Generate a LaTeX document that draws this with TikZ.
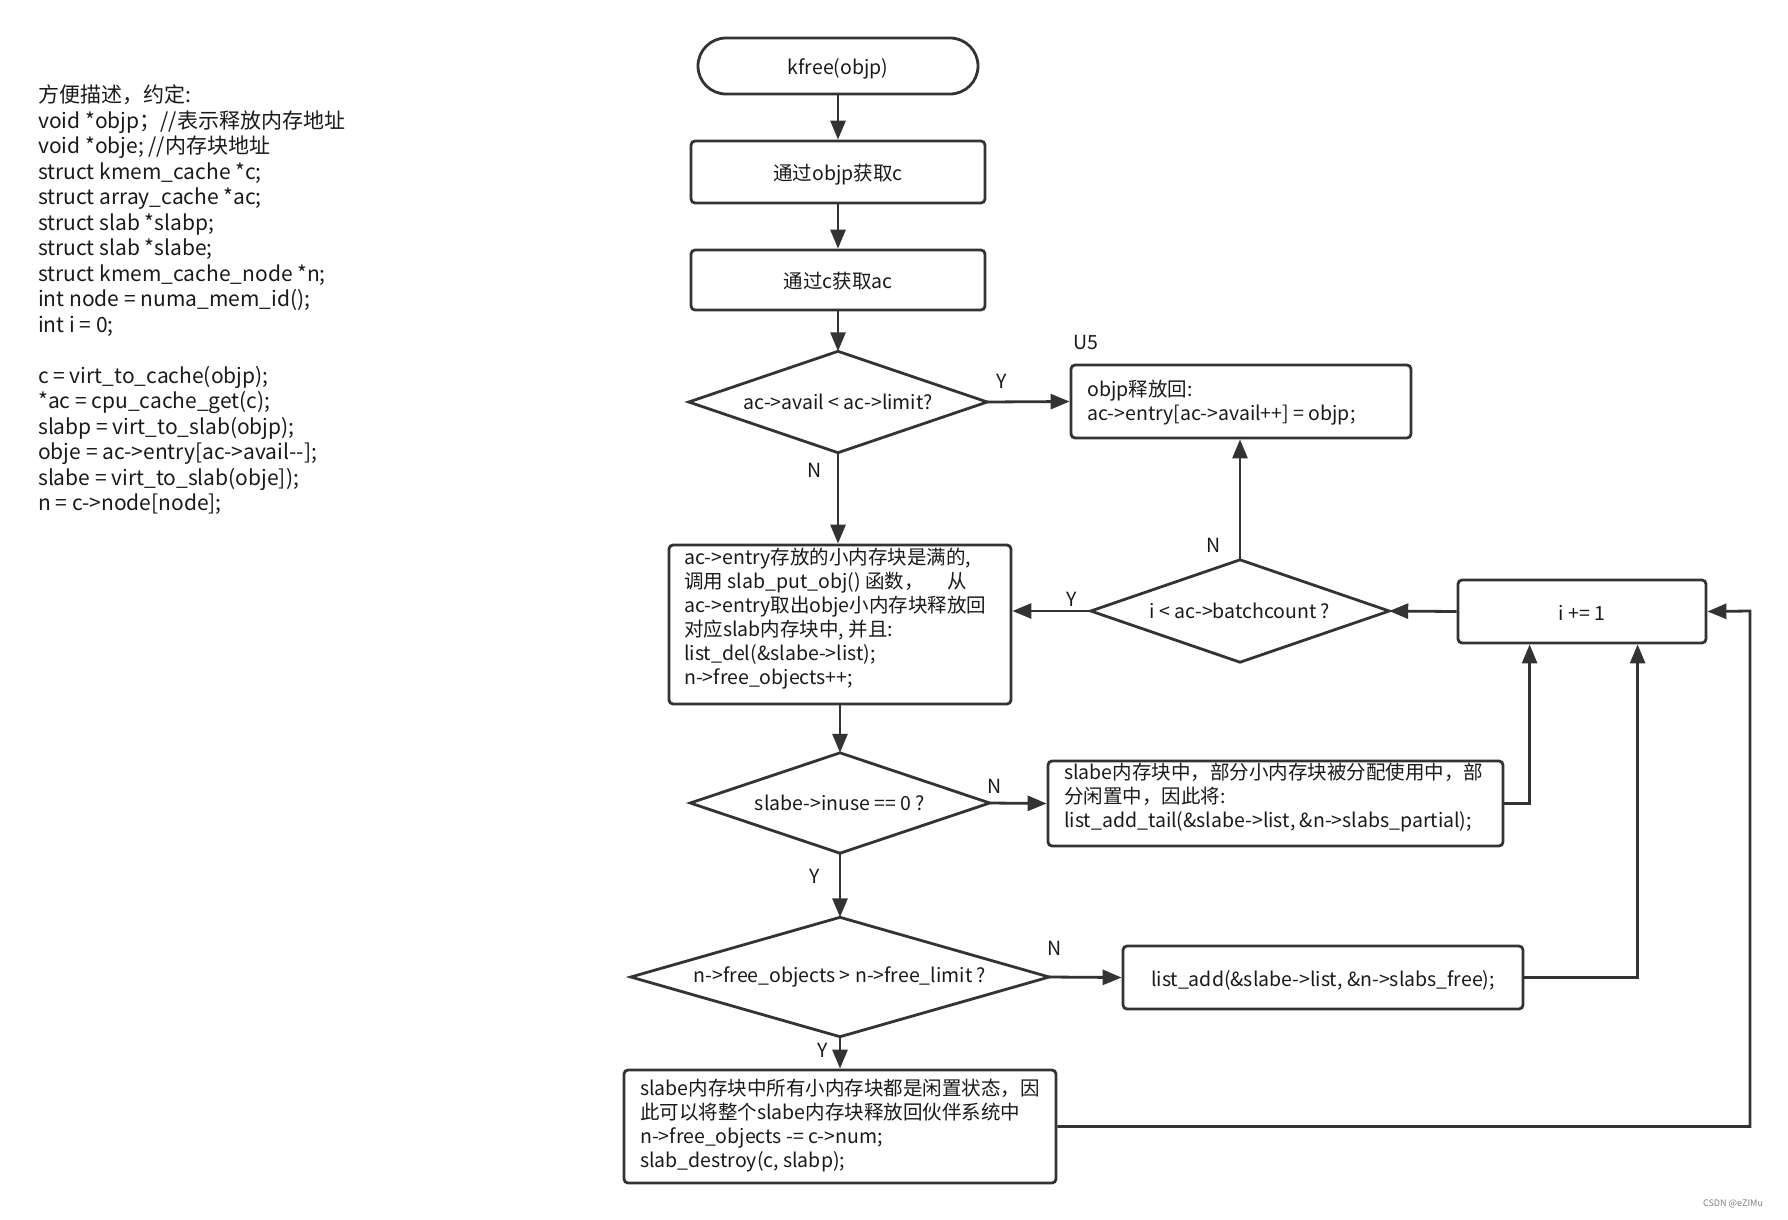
\documentclass[tikz,border=0pt]{standalone}
\usepackage{fontspec}
\setmainfont{Noto Sans CJK SC}
\usetikzlibrary{arrows.meta,calc}
\definecolor{ln}{HTML}{333333}
\definecolor{tx}{HTML}{1A1A1A}
\newcommand\myfs{\fontsize{19.5}{24}\selectfont}
\newcommand\myfsl{\fontsize{21}{25.5}\selectfont}
\begin{document}
\begin{tikzpicture}[x=1pt,y=-1pt,
  box/.style={draw=ln, line width=2.8pt, rounded corners=4pt, inner sep=0pt, font=\myfs, text=tx, text height=19pt, text depth=1.5pt},
  dia/.style={rectangle, inner sep=0pt, font=\myfs, text=tx},
  diaedge/.style={draw=ln, line width=2.8pt},
  txt/.style={inner sep=0pt, anchor=base west, align=left, font=\myfs, text=tx},
  lab/.style={inner sep=0pt, font=\myfs, text=tx},
  arr/.style={draw=ln, line width=2.8pt, -{Triangle[length=19pt,width=15pt]}}]
\fill[white] (0,0) rectangle (1788,1219);
\useasboundingbox (0,0) rectangle (1788,1219);

% left description (anchor = baseline of last line)
\node[txt, font=\myfsl] (desc) at (38,510.5) {方便描述，约定:\\
void *objp；//表示释放内存地址\\
void *obje; //内存块地址\\
struct kmem\_cache *c;\\
struct array\_cache *ac;\\
struct slab *slabp;\\
struct slab *slabe;\\
struct kmem\_cache\_node *n;\\
int node = numa\_mem\_id();\\
int i = 0;\\[25.5pt]
c = virt\_to\_cache(objp);\\
*ac = cpu\_cache\_get(c);\\
slabp = virt\_to\_slab(objp);\\
obje = ac->entry[ac->avail-{}-];\\
slabe = virt\_to\_slab(obje]);\\
n = c->node[node];};

% flow nodes
\node[box, rounded corners=28pt, minimum width=280pt, minimum height=56pt] (kf) at (838,66) {kfree(objp)};
\node[box, minimum width=294pt, minimum height=62pt] (c1) at (838,172) {通过objp获取c};
\node[box, minimum width=294pt, minimum height=60pt] (c2) at (838,280) {通过c获取ac};
\node[dia, minimum width=298pt, minimum height=101pt] (d1) at (838,402) {ac->avail < ac->limit?};
\node[box, minimum width=340pt, minimum height=73pt] (objp) at (1241,401.5) {};
\node[txt] (tobjp) at (1087,420.5) {objp释放回:\\ac->entry[ac->avail++] = objp;};
\node[lab] (u5) at (1086,342) {U5};

\node[box, minimum width=342pt, minimum height=159pt] (big) at (840,624.5) {};
\node[txt] (tbig) at (684,684) {ac->entry存放的小内存块是满的,\\
调用 slab\_put\_obj() 函数，\hspace{24pt}从\\
ac->entry取出obje小内存块释放回\\
对应slab内存块中, 并且:\\
list\_del(\&slabe->list);\\
n->free\_objects++;};

\node[dia, minimum width=298pt, minimum height=102pt] (d2) at (1240,611) {i < ac->batchcount ?};
\node[box, minimum width=248pt, minimum height=63pt] (ipp) at (1582,611.5) {i += 1};

\node[dia, minimum width=299pt, minimum height=100pt] (d3) at (840,803) {slabe->inuse == 0 ?};
\node[box, minimum width=455pt, minimum height=85pt] (partial) at (1275.5,803.5) {};
\node[txt] (tpartial) at (1064,827.5) {slabe内存块中，部分小内存块被分配使用中，部\\
分闲置中，因此将:\\
list\_add\_tail(\&slabe->list, \&n->slabs\_partial);};

\node[dia, minimum width=418pt, minimum height=119pt] (d4) at (840,977) {n->free\_objects > n->free\_limit ?};
\node[box, minimum width=400pt, minimum height=63pt] (listadd) at (1323,977.5) {list\_add(\&slabe->list, \&n->slabs\_free);};

\node[box, minimum width=432pt, minimum height=113pt] (final) at (840,1126.5) {};
\node[txt] (tfinal) at (640,1167.5) {slabe内存块中所有小内存块都是闲置状态，因\\
此可以将整个slabe内存块释放回伙伴系统中\\
n->free\_objects -= c->num;\\
slab\_destroy(c, slabp);};

% diamond outlines
\foreach \d in {d1,d2,d3,d4}
  \draw[diaedge] (\d.north) -- (\d.east) -- (\d.south) -- (\d.west) -- cycle;

\coordinate (rt) at (1750,611);

% connectors
\draw[arr] (kf.south) -- (c1.north);
\draw[arr] (c1.south) -- (c2.north);
\draw[arr] (c2.south) -- (d1.north);
\draw[arr] (d1.east) -- (objp.west);
\draw[arr] (d1.south) -- (d1.south |- big.north);
\draw[arr] (d2.north) -- (d2.north |- objp.south);
\draw[arr] (d2.west) -- (d2.west -| big.east);
\draw[arr] (ipp.west) -- (d2.east);
\draw[arr] (big.south) -- (d3.north);
\draw[arr] (d3.east) -- (partial.west);
\draw[arr] (partial.east) -| ($(ipp.south west)+(73,0)$);
\draw[arr] (d3.south) -- (d4.north);
\draw[arr] (d4.east) -- (listadd.west);
\draw[arr] (listadd.east) -| ($(ipp.south west)+(181,0)$);
\draw[arr] (d4.south) -- (final.north);
\draw[arr] (final.east) -| (rt) -- (ipp.east);

% labels
\node[lab] (y1) at (1002,381) {Y};
\node[lab] (n1) at (815,470) {N};
\node[lab] (n2) at (1214,545) {N};
\node[lab] (y2) at (1072,599) {Y};
\node[lab] (n3) at (995,786) {N};
\node[lab] (y3) at (815,876) {Y};
\node[lab] (n4) at (1055,948) {N};
\node[lab] (y4) at (823,1050) {Y};
\node[inner sep=0pt, font=\fontsize{9}{10}\selectfont, text=gray] (wm) at (1733,1204) {CSDN @eZIMu};
\end{tikzpicture}
\end{document}
